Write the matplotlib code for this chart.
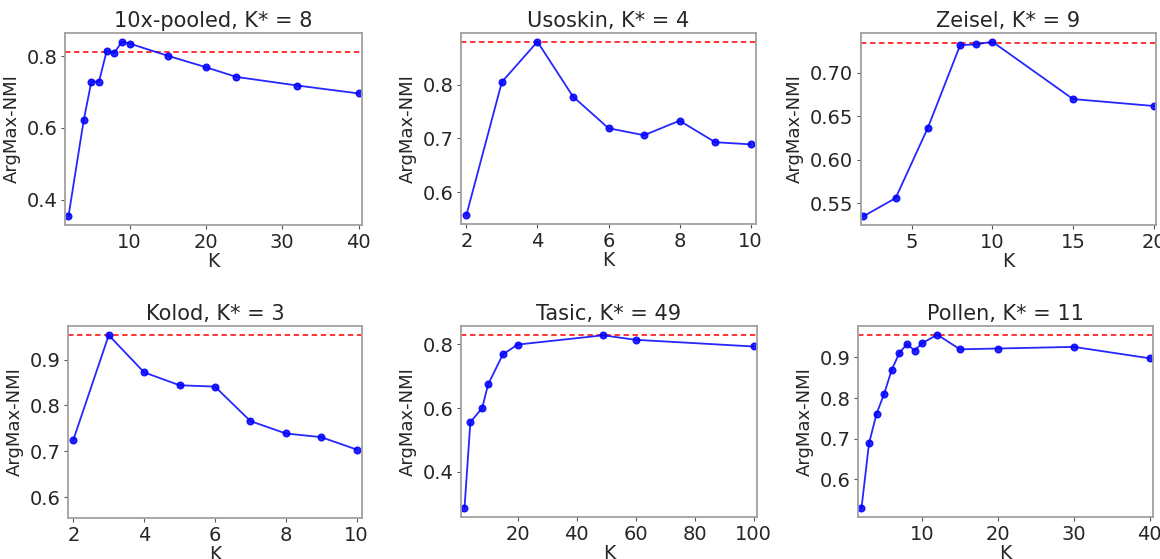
import matplotlib
matplotlib.use("Agg")
import matplotlib.pyplot as plt

titles = ["10x-pooled, K* = 8", "Usoskin, K* = 4", "Zeisel, K* = 9",
          "Kolod, K* = 3", "Tasic, K* = 49", "Pollen, K* = 11"]

k_10x = [2, 4, 5, 6, 7, 8, 9, 10, 15, 20, 24, 32, 40]
nmi_10x = [0.354, 0.622, 0.729, 0.729, 0.814, 0.809, 0.840, 0.835, 0.801, 0.769, 0.742, 0.718, 0.696]
ref_10x = 0.811

k_uso = [2, 3, 4, 5, 6, 7, 8, 9, 10]
nmi_uso = [0.557, 0.805, 0.880, 0.778, 0.719, 0.706, 0.733, 0.693, 0.689]
ref_uso = 0.880

k_zei = [2, 4, 6, 8, 9, 10, 15, 20]
nmi_zei = [0.535, 0.556, 0.637, 0.732, 0.733, 0.736, 0.670, 0.662]
ref_zei = 0.734

k_kol = [2, 3, 4, 5, 6, 7, 8, 9, 10]
nmi_kol = [0.725, 0.953, 0.872, 0.844, 0.841, 0.766, 0.739, 0.731, 0.704]
ref_kol = 0.953

k_tas = [2, 4, 8, 10, 15, 20, 49, 60, 100]
nmi_tas = [0.286, 0.556, 0.600, 0.674, 0.768, 0.799, 0.828, 0.814, 0.793]
ref_tas = 0.830

k_pol = [2, 3, 4, 5, 6, 7, 8, 9, 10, 12, 15, 20, 30, 40]
nmi_pol = [0.529, 0.689, 0.762, 0.811, 0.870, 0.911, 0.933, 0.917, 0.935, 0.956, 0.920, 0.922, 0.926, 0.898]
ref_pol = 0.956

xticks_list = [[10, 20, 30, 40], [2, 4, 6, 8, 10], [5, 10, 15, 20],
               [2, 4, 6, 8, 10], [20, 40, 60, 80, 100], [10, 20, 30, 40]]
yticks_list = [[0.4, 0.6, 0.8], [0.6, 0.7, 0.8], [0.55, 0.60, 0.65, 0.70],
               [0.6, 0.7, 0.8, 0.9], [0.4, 0.6, 0.8], [0.6, 0.7, 0.8, 0.9]]

panels = [(k_10x, nmi_10x, ref_10x), (k_uso, nmi_uso, ref_uso), (k_zei, nmi_zei, ref_zei),
          (k_kol, nmi_kol, ref_kol), (k_tas, nmi_tas, ref_tas), (k_pol, nmi_pol, ref_pol)]

W, H = 1160, 559
boxes = [(65, 33, 362, 225), (461, 33, 756, 224), (861, 33, 1156, 225),
         (68, 326, 362, 518), (461, 326, 757, 517), (858, 326, 1153, 517)]

txt = "#262626"
plt.rcParams.update({
    "font.family": "DejaVu Sans",
    "text.color": txt,
    "axes.labelcolor": txt,
    "xtick.color": "#555555",
    "ytick.color": "#555555",
    "xtick.labelcolor": txt,
    "ytick.labelcolor": txt,
})

fig = plt.figure(figsize=(W / 100, H / 100), dpi=100)
for i, ((ks, vals, ref), (l, t, r, b)) in enumerate(zip(panels, boxes)):
    ax = fig.add_axes([l / W, 1 - b / H, (r - l) / W, (b - t) / H])
    ax.axhline(ref, color="red", linestyle="--", linewidth=1.3, dashes=(3, 2), alpha=0.85)
    ax.plot(ks, vals, "o-", color="blue", markersize=4.8, linewidth=1.3, alpha=0.85)
    span = max(ks) - min(ks)
    m = 0.012 * span if span > 20 else 0.15
    ax.set_xlim(min(ks) - m, max(ks) + m)
    if i == 3:
        ax.set_ylim(0.555, 0.973)
    ax.set_xticks(xticks_list[i])
    ax.set_yticks(yticks_list[i])
    ax.set_title(titles[i], fontsize=15, pad=4)
    ax.set_xlabel("K", fontsize=13.5, labelpad=0)
    ax.set_ylabel("ArgMax-NMI", fontsize=13)
    ax.tick_params(labelsize=14, length=3, width=0.8, pad=2.5)
    for s in ax.spines.values():
        s.set_color("#a0a0a0")
        s.set_linewidth(1.3)

fig.savefig("out.png", dpi=100)
